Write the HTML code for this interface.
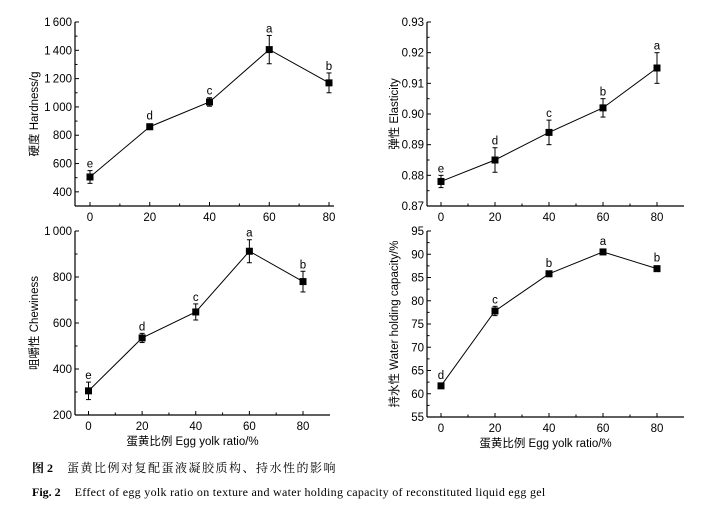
<!DOCTYPE html>
<html><head><meta charset="utf-8"><style>
body{margin:0;background:#fff;width:701px;height:506px;overflow:hidden}
svg{position:absolute;left:0;top:0}
text{font-family:"Liberation Sans","Noto Sans CJK SC",sans-serif;fill:#000}
.cap{font-family:"Liberation Serif","Noto Serif CJK SC",serif;}
</style></head><body>
<svg id="s" width="701" height="506" viewBox="0 0 701 506"></svg>
<script>
const P=[
 {ax:75,x0:90,x80:329,xe:334,yt:22,yb:206,vt:1600,vb:300,ticks:[400,600,800,1000,1200,1400,1600],minor:100,fmt:v=>v>=1000?(Math.floor(v/1000)+"\u2009"+String(v%1000).padStart(3,"0")):String(v),
  d:[[505,45],[860,20],[1035,30],[1405,100],[1170,70]],l:["e","d","c","a","b"],yl:"硬度 Hardness/g",ylx:30,axisY:206},
 {ax:427,x0:441,x80:657,xe:684,yt:22,yb:206,vt:0.93,vb:0.87,ticks:[0.87,0.88,0.89,0.90,0.91,0.92,0.93],minor:0.005,fmt:v=>v.toFixed(2),
  d:[[0.878,0.002],[0.885,0.004],[0.894,0.004],[0.902,0.003],[0.915,0.005]],l:["e","d","c","b","a"],yl:"弹性 Elasticity",ylx:390,axisY:206},
 {ax:75,x0:88.5,x80:303,xe:330,yt:231,yb:415,vt:1000,vb:200,ticks:[200,400,600,800,1000],minor:100,fmt:v=>v>=1000?"1\u2009000":String(v),
  d:[[305,38],[535,20],[648,35],[912,50],[780,45]],l:["e","d","c","a","b"],yl:"咀嚼性 Chewiness",ylx:30,axisY:415,xl:true},
 {ax:427,x0:441,x80:657,xe:684,yt:231,yb:417,vt:95,vb:55,ticks:[55,60,65,70,75,80,85,90,95],minor:2.5,fmt:v=>String(v),
  d:[[61.7,0.4],[77.8,1],[85.8,0.6],[90.5,0.4],[86.9,0.3]],l:["d","c","b","a","b"],yl:"持水性 Water holding capacity/%",ylx:390,axisY:417,xl:true}
];
let h="";
for(const p of P){
 const Y=v=>p.yb-(v-p.vb)/(p.vt-p.vb)*(p.yb-p.yt);
 const X=i=>p.x0+(p.x80-p.x0)*i/4;
 h+=`<line x1="${p.ax}" y1="${p.yt}" x2="${p.ax}" y2="${p.axisY}" stroke="#000" stroke-width="1.2"/>`;
 h+=`<line x1="${p.ax}" y1="${p.axisY}" x2="${p.xe}" y2="${p.axisY}" stroke="#000" stroke-width="1.2"/>`;
 for(let v=p.vb;v<=p.vt+1e-9;v+=p.minor){const y=Y(v);const maj=p.ticks.some(t=>Math.abs(t-v)<1e-9);
  h+=`<line x1="${p.ax}" y1="${y}" x2="${p.ax+(maj?4:2.5)}" y2="${y}" stroke="#000"/>`;}
 for(const t of p.ticks){h+=`<text x="${p.ax-3}" y="${Y(t)+4}" font-size="11.5" text-anchor="end">${p.fmt(t)}</text>`;}
 for(let i=0;i<=8;i++){const x=p.x0+(p.x80-p.x0)*i/8;h+=`<line x1="${x}" y1="${p.axisY}" x2="${x}" y2="${p.axisY-(i%2?2.5:4)}" stroke="#000"/>`;
  if(i%2==0)h+=`<text x="${x}" y="${p.axisY+15}" font-size="11.5" text-anchor="middle">${i*10}</text>`;}
 const cy=(p.yt+p.axisY)/2;
 h+=`<text transform="translate(${p.ylx+8},${cy}) rotate(-90)" font-size="11.5" text-anchor="middle">${p.yl}</text>`;
 if(p.xl)h+=`<text x="${(p.ax+p.xe)/2-10}" y="${p.axisY+30}" font-size="11.5" text-anchor="middle">蛋黄比例 Egg yolk ratio/%</text>`;
 h+=`<polyline fill="none" stroke="#000" stroke-width="1" points="${p.d.map((d,i)=>X(i)+","+Y(d[0])).join(" ")}"/>`;
 p.d.forEach((d,i)=>{const x=X(i),y=Y(d[0]),y1=Y(d[0]+d[1]),y2=Y(d[0]-d[1]);
  h+=`<line x1="${x}" y1="${y1}" x2="${x}" y2="${y2}" stroke="#000"/><line x1="${x-2.5}" y1="${y1}" x2="${x+2.5}" y2="${y1}" stroke="#000"/><line x1="${x-2.5}" y1="${y2}" x2="${x+2.5}" y2="${y2}" stroke="#000"/>`;
  h+=`<rect x="${x-3.5}" y="${y-3.5}" width="7" height="7" fill="#000"/>`;
  h+=`<text x="${x}" y="${Math.min(y1,y-4)-3}" font-size="11.5" text-anchor="middle">${p.l[i]}</text>`;});
}
h+=`<text class="cap" x="32" y="472" font-size="12"><tspan font-weight="bold">图 2</tspan><tspan dx="14" letter-spacing="1.5">蛋黄比例对复配蛋液凝胶质构、持水性的影响</tspan></text>`;
h+=`<text class="cap" x="32" y="496" font-size="12"><tspan font-weight="bold">Fig. 2</tspan><tspan dx="14" letter-spacing="0.3">Effect of egg yolk ratio on texture and water holding capacity of reconstituted liquid egg gel</tspan></text>`;
document.getElementById("s").innerHTML=h;
</script>
</body></html>
